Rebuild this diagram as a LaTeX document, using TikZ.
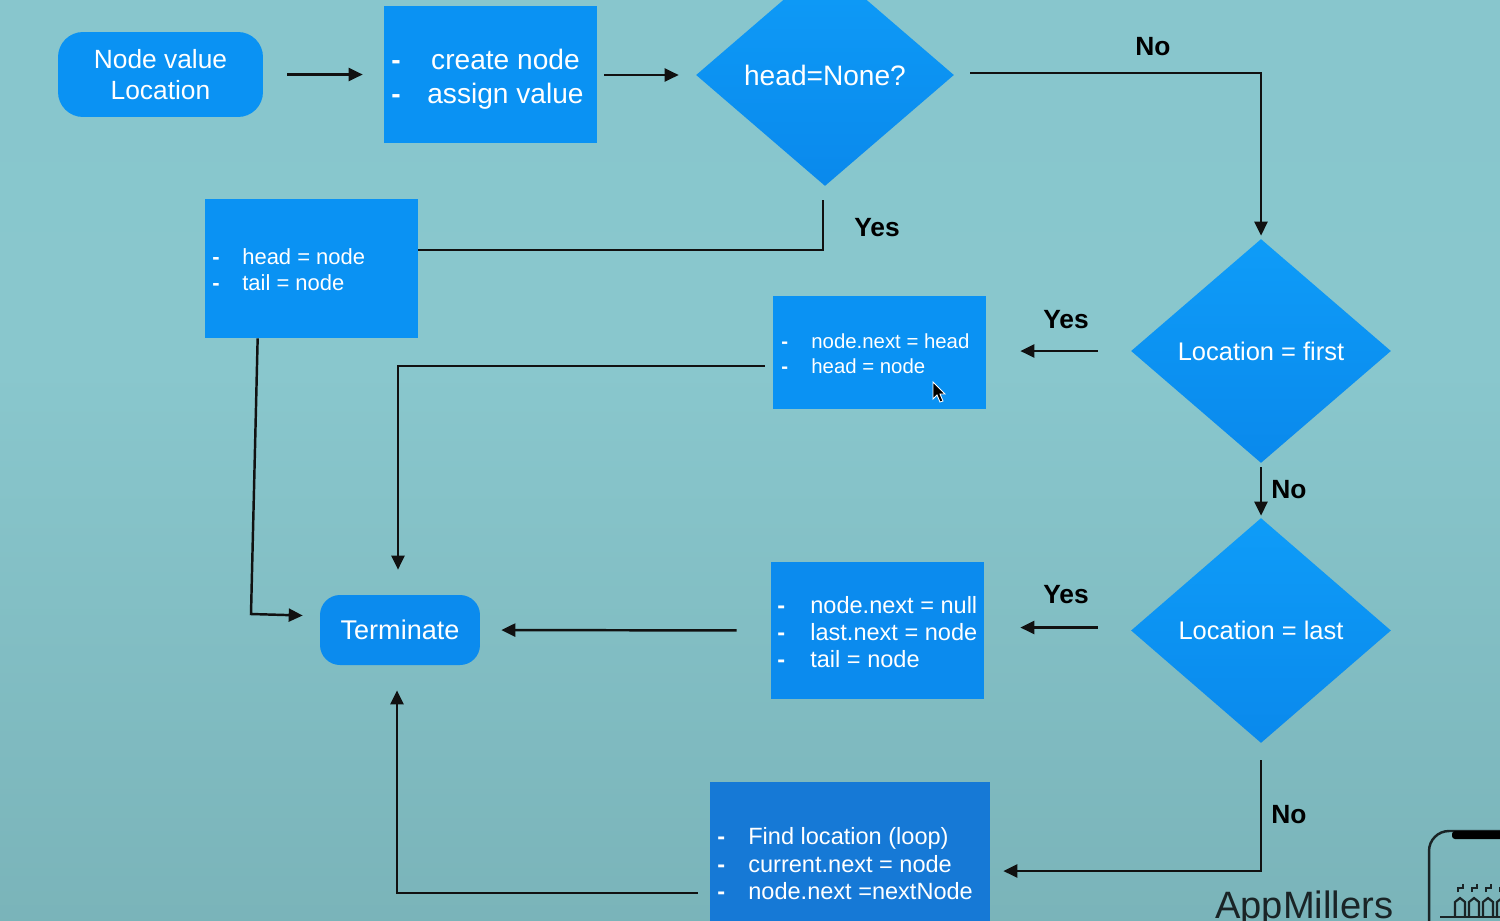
\documentclass[tikz,border=0pt]{standalone}
\usepackage{fontspec}
\setmainfont{Liberation Sans}
\usetikzlibrary{shapes.geometric,arrows.meta,calc}
\definecolor{bgtop}{HTML}{86C5CD}
\definecolor{bgmid}{HTML}{89C7CD}
\definecolor{bgbot}{HTML}{6CA2A7}
\definecolor{boxA}{HTML}{0A92F3}
\definecolor{boxB}{HTML}{0B8BEE}
\definecolor{boxC}{HTML}{1679D6}
\definecolor{diaTop}{HTML}{0E9CF8}
\definecolor{diaBot}{HTML}{0A89EC}
\definecolor{linec}{HTML}{111111}
\definecolor{logoc}{HTML}{1A2426}
\pgfdeclareverticalshading{bgshade}{100bp}{color(0bp)=(bgbot); color(20bp)=(bgbot!60!bgmid); color(55bp)=(bgmid); color(100bp)=(bgtop)}
\newcommand\fs[2]{\fontsize{#1}{#2}\selectfont}
\begin{document}
\begin{tikzpicture}[x=0.02cm,y=-0.02cm,
  rbox/.style={rectangle, draw=none, fill=boxA, inner sep=0pt},
  pill/.style={rectangle, rounded corners=0.5cm, fill=boxA, text=white, align=center, inner sep=0pt},
  dia/.style={diamond, aspect=1.16, inner sep=0pt, top color=diaTop, bottom color=diaBot, text=white},
  btext/.style={text=white, inner sep=0pt, anchor=west},
  conn/.style={draw=linec, line width=1.4pt},
  arr/.style={conn, -{Triangle[length=0.28cm,width=0.26cm]}},
  lab/.style={font=\bfseries\fs{15}{18}, text=black, inner sep=0pt}
]
\useasboundingbox (0,0) rectangle (1500,920);
\clip (0,0) rectangle (1500,920);
\shade[shading=bgshade] (0,0) rectangle (1500,920);

% nodes
\node[pill, minimum width=4.1cm, minimum height=1.7cm, font=\fs{15}{17.6}] (start) at (160.5,74.5) {Node value\\Location};

\node[rbox, minimum width=4.26cm, minimum height=2.74cm] (create) at (490.5,74.5) {};
\node[btext, font=\fs{16}{19.3}] (create-t) at (391,80)
  {\begin{tabular}{@{}p{0.72cm}@{}c@{}}\textbf{-}&create node\\\textbf{-}&assign value\end{tabular}};

\node[dia, minimum width=5.16cm, minimum height=4.44cm, font=\fs{16}{19}] (hn) at (825,75) {head=None?};

\node[rbox, minimum width=4.26cm, minimum height=2.78cm] (ht) at (311.5,268.5) {};
\node[btext, font=\fs{12.5}{14.7}] (ht-t) at (212,272)
  {\begin{tabular}{@{}p{0.6cm}@{}l@{}}\textbf{-}&head = node\\\textbf{-}&tail = node\end{tabular}};

\node[rbox, minimum width=4.26cm, minimum height=2.26cm] (nh) at (879.5,352.5) {};
\node[btext, font=\fs{11.6}{14.2}] (nh-t) at (781,356)
  {\begin{tabular}{@{}p{0.6cm}@{}l@{}}\textbf{-}&node.next = head\\\textbf{-}&head = node\end{tabular}};

\node[dia, minimum width=5.2cm, minimum height=4.48cm, font=\fs{14.5}{17}] (lf) at (1261,351) {Location = first};
\node[dia, minimum width=5.2cm, minimum height=4.5cm, font=\fs{14.5}{17}] (ll) at (1261,630.5) {Location = last};

\node[rbox, fill=boxB, minimum width=4.26cm, minimum height=2.74cm] (nl) at (877.5,630.5) {};
\node[btext, font=\fs{13.4}{15.3}] (nl-t) at (777,635)
  {\begin{tabular}{@{}p{0.66cm}@{}l@{}}\textbf{-}&node.next = null\\\textbf{-}&last.next = node\\\textbf{-}&tail = node\end{tabular}};

\node[pill, fill=boxB, rounded corners=0.4cm, minimum width=3.2cm, minimum height=1.4cm, font=\fs{15.4}{18}] (term) at (400,630) {Terminate};

\node[rbox, fill=boxC, minimum width=5.6cm, minimum height=3.56cm] (find) at (850,871) {};
\node[btext, font=\fs{13.4}{15.6}] (find-t) at (717,866.5)
  {\begin{tabular}{@{}p{0.62cm}@{}l@{}}\textbf{-}&Find location (loop)\\\textbf{-}&current.next = node\\\textbf{-}&node.next =nextNode\end{tabular}};

% connectors
\draw[arr, shorten <=0.48cm, shorten >=0.42cm] (start) -- (create);
\draw[arr, shorten <=0.14cm, shorten >=0.34cm] (create.east |- hn) -- (hn);
\draw[arr, shorten <=0.32cm, shorten >=0.06cm] ([yshift=0.04cm]hn.east) -| (lf.north);
\coordinate (yesY) at (0,250);
\draw[conn, shorten <=0.28cm] ([xshift=-0.04cm]hn.south) |- (ht.east |- yesY);
\coordinate (c1) at (251,614);
\draw[arr, shorten >=0.34cm] ([xshift=1.06cm]ht.south west) -- (c1) -- ([yshift=0.28cm]term.west);
\draw[arr, shorten <=0.66cm, shorten >=0.68cm] (lf.west) -- (lf.west -| nh.east);
\draw[arr, shorten <=0.16cm, shorten >=0.5cm] ([yshift=-0.27cm]nh.west) -| ([xshift=-0.04cm]term.north);
\draw[arr, shorten <=0.08cm, shorten >=0.04cm] (lf.south) -- (ll.north);
\draw[arr, shorten <=0.66cm, shorten >=0.72cm] ([yshift=0.06cm]ll.west) -- ([yshift=0.06cm]ll.west -| nl.east);
\draw[arr, shorten <=0.68cm, shorten >=0.42cm] (nl.west) -- (term.east);
\draw[arr, shorten <=0.34cm, shorten >=0.26cm] (ll.south) |- (find.east);
\draw[arr, shorten <=0.24cm, shorten >=0.5cm] ([yshift=-0.44cm]find.west) -| ([xshift=-0.06cm]term.south);

% labels
\node[lab] (no1) at (1153,47) {No};
\node[lab] (yes1) at (877,228) {Yes};
\node[lab] (yes2) at (1066,320) {Yes};
\node[lab] (no2) at (1289,490) {No};
\node[lab] (yes3) at (1066,595) {Yes};
\node[lab] (no3) at (1289,815) {No};

% cursor
\draw[white, line width=0.5pt, fill=black] (933,382) -- (933,399) -- (937,395) -- (940,402) -- (943,401) -- (940,394) -- (945,394) -- cycle;

% watermark
\node[anchor=base west, inner sep=0pt, text=logoc, font=\fs{21.7}{24}] (logo) at (1215,918) {AppMillers};
\draw[logoc, line width=1.4pt, rounded corners=0.4cm] (1429,940) -- (1429,831) -- (1520,831);
\fill[black, rounded corners=0.06cm] (1452,831) rectangle (1510,839);
\draw[logoc, line width=0.9pt] (1440,917) -- (1500,917);
\foreach \i in {0,1,2,3} {
  \draw[logoc, line width=1.2pt] (1455+14*\i,917) -- (1455+14*\i,902) -- (1460+14*\i,898) -- (1465+14*\i,902) -- (1465+14*\i,917);
  \draw[logoc, line width=1.2pt] (1458+14*\i,892) -- (1458+14*\i,888) -- (1463+14*\i,888) -- (1463+14*\i,884);
}
\end{tikzpicture}
\end{document}
